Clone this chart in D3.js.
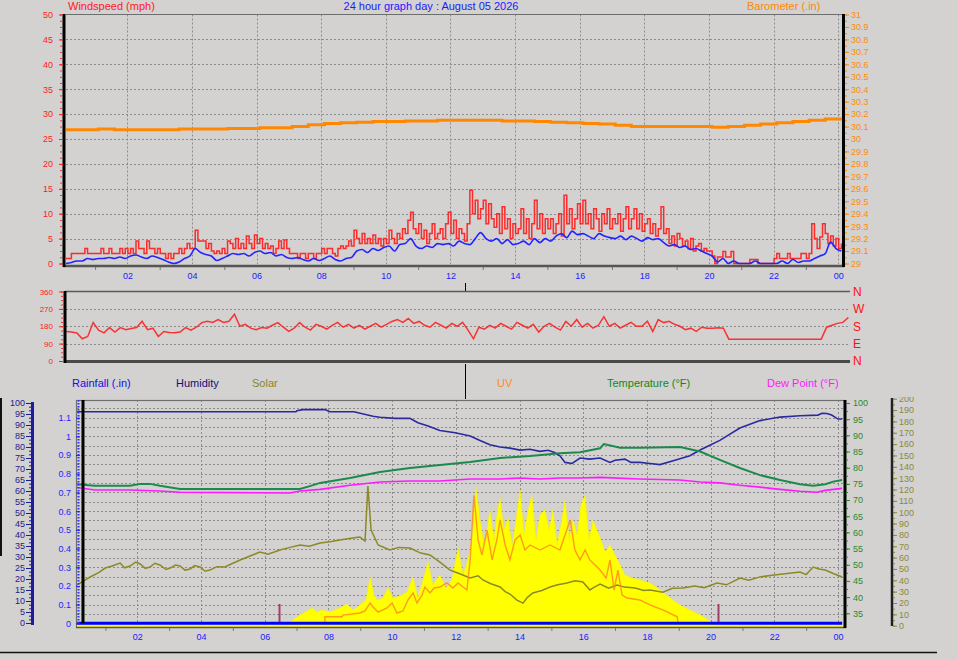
<!DOCTYPE html>
<html><head><meta charset="utf-8">
<script src="https://cdnjs.cloudflare.com/ajax/libs/d3/7.8.5/d3.min.js"></script>
<style>
html,body{margin:0;padding:0;background:#d4d1d1;}
svg{display:block;font-family:"Liberation Sans",Arial,sans-serif;}
</style></head><body>
<svg id="c" width="957" height="660"></svg>
<script>
// ---------------- DATA ----------------
const titleText = "24 hour graph day : August 05 2026";
const hourTicks = [2,4,6,8,10,12,14,16,18,20,22,24];
const hourLabels = ["02","04","06","08","10","12","14","16","18","20","22","00"];
const oddHours = [1,3,5,7,9,11,13,15,17,19,21,23];

const windTicks = [0,5,10,15,20,25,30,35,40,45,50];
const baroTicks = [29,29.1,29.2,29.3,29.4,29.5,29.6,29.7,29.8,29.9,30,30.1,30.2,30.3,30.4,30.5,30.6,30.7,30.8,30.9,31];
const dirTicks = [0,90,180,270,360];
const dirLetters = ["N","E","S","W","N"];
const rainTicks = [0,0.1,0.2,0.3,0.4,0.5,0.6,0.7,0.8,0.9,1,1.1];
const humTicks = [0,5,10,15,20,25,30,35,40,45,50,55,60,65,70,75,80,85,90,95,100];
const tempTicks = [35,40,45,50,55,60,65,70,75,80,85,90,95,100];
const solarTicks = [0,10,20,30,40,50,60,70,80,90,100,110,120,130,140,150,160,170,180,190,200];

// wind gust (mph), 5-minute samples from 00:06
const gustStart = 0.1, gustStep = 1/12;
const windGust = [
1,1,2,2,2,2,2,3,2,2,2,2,
2,3,2,2,3,2,2,2,3,2,3,2,
3,2,4.5,3,3,2,4.5,3,3,2,3,2,
2,1,2,1,2,2,3,2,3,4,3,3,
6.7,4.5,4.5,4.5,3,4,2.5,2,2.5,2,3,2,
4.5,4,3,5,3,4,3,5.5,4,3,5.7,4,
5,3,4,3,3.5,2,3,4.5,3,4.7,3,2,
2,2,1,2,2,1,2,2,1,2,2,3,
2,3,3,2,1.5,3,3.5,3,3.5,4.5,3.5,6.7,
5,4,6,4,5,4,5.7,4,5,3.5,5,4,
6.7,5,4,6,5,7,6,8.7,10.3,7,6,8,
5,6.7,4,6,8,5,6,7,5,8,10.3,6,
8.7,5,7,6,4.5,8,14.7,10,12.7,9,11,12.7,
8,12,9,7.3,10,6,11.4,7,9,5,8,6,
7,11,6,9,5,8,12.7,7,10,6,9,7,
9,6,8,10,5.5,13.7,8,11,7,9,12,8,
12.7,8,10,7,11,9,6.5,10,8,11,7,9,
8,10,6.5,9,11.4,7,9,11,7,10,6.5,8,
9,6,8,5.5,7,11.4,6,7,4,5.5,3.5,6,
5,3.5,4.5,3,5,2.5,3.5,4,2.5,3,2.5,2.5,
1.5,0,1.3,1.3,2.4,1.3,1.3,2.4,0,0,0,0,
0,0,0.8,0.8,0.8,0,0,0,0,0,0,1,
2,1,1,1,2,1,1,1,1,2,2,1,
2,8,5,3,5.3,8,6,4,5.5,3.5,5,3,
4];

// average wind (mph), 10-minute samples
const avgStart = 0.1, avgStep = 1/6;
const windAvg = [
0,0.2,0.5,0.5,1,0.8, 1,1,1.2,1,1.3,1, 1.5,1.7,1.3,1,1.5,1.2, 0.8,0.3,0,0.3,1,1.5,
3,2.2,1.8,1.5,0.6,1, 1.5,2,1.8,2,1.5,2.2, 2.5,2,2.2,1.5,1.8,1.2, 1,1.2,0.8,0.5,1,0.6,
1,1.5,0.8,0.5,1,1.2, 2.5,2.8,2.2,3,2.6,3.2, 3.5,2.5,3.8,4,5,3.5, 3,3.5,3.2,4,3.8,4,
3.5,4.5,4,3.8,5,6.2, 5,4.5,5,4,4.8,3.8, 4,4.5,3.8,5,4.2,5, 4.5,5.5,6,5.2,6.5,5.8,
6,5.5,5,6,5.5,5.2, 5,5.5,4.8,5.5,5,4.5, 5.2,4.8,5,4.2,3.5,3.8, 3.2,3.5,2.8,3,2.5,2,
1.5,0.3,1,0,0.5,0, 0,0,0.5,0,0,0, 0,0.5,0,0.8,0.2,0.5, 0.5,1,1.5,2,4.3,3,
2.5];

// barometer (in), half-hour samples
const baroStart = 0.1, baroStep = 0.5;
const barometer = [30.075,30.075,30.08,30.075,30.075,30.075,30.075,30.08,30.08,30.08,30.085,30.085,30.09,30.09,30.1,30.115,30.125,30.13,30.135,30.14,30.14,30.145,30.145,30.15,30.15,30.15,30.15,30.145,30.145,30.14,30.135,30.13,30.125,30.12,30.11,30.1,30.1,30.1,30.1,30.1,30.095,30.1,30.11,30.12,30.13,30.14,30.15,30.16,30.17];

// wind direction (deg), 10-minute samples
const dirStart = 0.1, dirStep = 1/6;
const windDir = [
153,150,145,115,127,199,160,146,173,150,173,162,168,173,206,162,170,127,153,148,146,150,173,160,
175,199,206,200,215,200,206,242,180,190,170,162,173,170,185,199,175,153,170,199,175,160,190,180,
165,185,200,175,190,170,185,165,180,195,175,190,205,215,200,220,195,205,185,175,200,185,170,195,
180,200,160,115,175,165,185,170,195,180,165,200,185,170,190,150,180,195,175,160,205,180,215,175,
195,170,185,230,180,195,170,185,200,180,180,206,153,215,199,206,190,180,162,170,153,175,170,170,
172,170,113,113,113,113,113,113,113,113,113,113,113,113,113,113,113,113,113,113,175,185,195,200,
225];

// bottom panel
const rainT = [0.11, 24.13];
const rainfall = [0, 0];

const humT = [0.11,6.98,7.01,7.2,7.89,8.05,8.8,9.4,9.62,10.09,10.56,10.81,11.13,11.5,11.98,12.45,12.76,13.07,13.39,13.7,14.02,14.33,14.64,14.9,15.1,15.27,15.43,15.65,15.9,16.2,16.53,16.84,17.0,17.31,17.5,17.78,18.1,18.41,18.88,19.35,19.67,20.29,20.92,21.55,22.18,22.81,23.37,23.5,23.65,23.8,24.0,24.13];
const humidity = [96,96,96.5,97,97,96,96,94,93.5,93,93,91,89.5,87.5,86.5,85,83,81,80,79.5,78.6,79,78,78.5,77.5,76,73,72.5,75,74.5,75,73,74,74.5,73,73,72.5,72,74,76,78.6,83,88.6,92,93.6,94.2,94.5,95.3,95.2,94.5,92.7,92.7];

const tempT = [0.11,0.67,1.77,2.09,2.4,2.71,3.34,7.11,7.42,7.74,8.68,9.62,10.56,11.5,12.45,13.39,14.33,15.27,15.9,16.53,16.65,17.16,17.78,19.04,19.67,20.29,20.92,21.55,22.18,22.81,23.22,23.6,23.85,24.13];
const temperature = [74.9,74.4,74.4,75,75,74.4,73.4,73.4,74.3,75.3,76.8,78.7,79.9,80.8,81.8,83,83.6,84.5,84.8,86,87.3,86.2,86.2,86.4,85,82.4,79.9,77.7,76.2,74.9,74.4,74.9,75.7,76.2];

const dewT = [0.11,0.67,1.77,2.71,3.34,6.79,7.11,7.74,8.68,9.62,10.56,11.5,12.45,13.39,14.02,14.64,15.27,15.9,16.53,17.78,19.04,19.67,20.29,20.92,21.55,22.18,22.81,23.34,23.6,24.13];
const dewPoint = [73.9,73.1,73.1,72.8,72.4,72.2,72.8,73.3,74.6,75.6,75.9,75.9,76.5,76.5,76.8,76.5,76.8,76.8,77,76.5,76.2,75.6,75.3,74.6,74,73.3,72.7,72.4,73,73.6];

const solarT = [0.11,0.52,0.8,0.99,1.21,1.46,1.6,1.77,1.95,2.09,2.25,2.4,2.55,2.71,2.9,3.03,3.2,3.34,3.5,3.66,3.8,3.97,4.13,4.28,4.5,4.75,5.0,5.23,5.5,5.85,6.1,6.48,6.8,7.11,7.4,7.74,8.05,8.36,8.7,8.99,9.15,9.24,9.34,9.56,9.93,10.2,10.56,10.9,11.19,11.5,11.82,12.1,12.45,12.7,12.85,13.1,13.39,13.55,13.7,13.92,14.11,14.25,14.42,14.7,14.96,15.2,15.49,15.75,15.99,16.21,16.35,16.53,16.8,17.06,17.3,17.63,17.9,18.1,18.5,18.8,19.13,19.5,19.8,20.2,20.5,20.92,21.2,21.55,22.0,22.4,22.81,23.0,23.22,23.4,23.6,23.85,24.13];
const solar = [35.9,42.9,47,50.8,52.6,55.2,51,52.6,56,54.4,50.5,51.7,55,53.5,49.5,50.8,53.5,52.6,49,50,53,51.7,48,49,52,51.7,55,57.9,61,64.9,63,66.7,69,71.1,70,72.9,74,75.5,77,78.1,74.6,123.1,84.3,71.1,66.7,69,68.5,64,62.3,56,49,46,42,44,40.3,37,34.1,30,27.9,22.6,19.9,25,28.8,31,34.1,36,37.6,39.5,38.5,31.5,34,36.7,33,35.9,34,33.2,31,31.5,29.5,33,33.2,35,33.5,37.6,36,42,40,43,44.7,46,47.3,45,51.7,50,49,46,42.9];

const sunT = [6.67,6.79,7.11,7.33,7.49,7.64,7.8,8.05,8.36,8.58,8.77,8.99,9.18,9.31,9.43,9.53,9.71,9.87,10.03,10.25,10.47,10.66,10.81,10.97,11.13,11.28,11.5,11.69,11.88,12.07,12.23,12.38,12.51,12.63,12.76,12.89,12.98,13.07,13.2,13.29,13.39,13.51,13.64,13.77,13.89,14.02,14.14,14.27,14.39,14.52,14.64,14.8,14.93,15.05,15.18,15.3,15.43,15.56,15.68,15.81,15.93,16.06,16.18,16.31,16.43,16.56,16.69,16.84,17.0,17.16,17.31,17.53,17.78,18.1,18.41,18.73,19.04,19.35,19.67,19.98,20.17];
const sunshine = [0,3.3,9.4,12.9,15.6,12.1,13.8,12.1,15.6,19.1,13.8,18.2,22.6,42.9,27,22.6,24.3,33.2,24.3,26.2,29.7,42.9,24.3,40.3,56.1,35.9,44.7,33.2,40.3,68.5,44.7,57.9,75.5,122.2,93,71.1,84.3,101.9,75.5,97.5,112.5,84.3,94.9,71.1,93,119.5,80.2,101.9,115.2,75.5,97.5,101.9,84.3,101.9,71.1,88.7,110.7,75.5,93,80.2,106.3,115.2,75.5,93,84.3,75.5,64.9,71.1,62.3,53.5,44.7,42,40.3,37.6,31.5,24.3,18.2,13.8,9.4,4.1,0];

const uvT = [7.89,7.89,8.43,8.46,8.99,9.15,9.31,9.4,9.56,9.84,10.0,10.15,10.34,10.5,10.66,10.78,10.94,11.03,11.19,11.32,11.5,11.72,11.91,12.07,12.35,12.45,12.57,12.7,12.82,12.98,13.14,13.29,13.39,13.55,13.7,13.86,14.02,14.17,14.33,14.64,14.96,15.27,15.43,15.59,15.74,15.9,16.06,16.21,16.37,16.53,16.72,16.84,16.97,17.09,17.22,17.38,17.78,18.1,18.57,18.95,18.98];
const uvIndex = [0,0.35,0.35,0.44,0.55,0.66,1.09,0.87,0.6,0.82,1.09,0.55,0.66,1.25,1.62,1.09,1.51,1.94,1.62,1.89,1.94,2.16,1.89,2.16,1.78,3.39,6.85,4.46,3.65,4.99,3.39,4.46,5.53,4.19,3.39,4.46,4.72,3.92,4.19,3.92,4.19,3.92,4.72,5.53,3.92,3.39,3.92,3.39,3.12,2.85,2.42,3.39,1.78,2.85,1.51,1.35,1.25,0.98,0.66,0.35,0];

const sunEvents = [6.45, 20.24];

const legendItems = [
  {label:"Rainfall (.in)", color:"#1010e8", x:72},
  {label:"Humidity", color:"#10107a", x:176},
  {label:"Solar", color:"#86862a", x:252},
  {label:"UV", color:"#ff8c1a", x:497},
  {label:"Temperature (°F)", color:"#0a8a1a", x:607},
  {label:"Dew Point (°F)", color:"#ff18ff", x:767}
];

// ---------------- DRAW ----------------
const FONT = '"Liberation Sans", Arial, sans-serif';
const svg = d3.select("#c");
svg.append("rect").attr("width",957).attr("height",660).attr("fill","#d4d1d1");

function styleAxis(g, color, size){
  g.select(".domain").remove();
  g.selectAll("line").attr("stroke",color);
  g.selectAll("text").attr("fill",color).attr("font-size",size).attr("font-family",FONT);
}
function hline(y,x1,x2,stroke,w,dash){
  svg.append("line").attr("x1",x1).attr("x2",x2).attr("y1",y).attr("y2",y)
    .attr("stroke",stroke).attr("stroke-width",w).attr("stroke-dasharray",dash||null);
}
function vline(x,y1,y2,stroke,w,dash){
  svg.append("line").attr("x1",x).attr("x2",x).attr("y1",y1).attr("y2",y2)
    .attr("stroke",stroke).attr("stroke-width",w).attr("stroke-dasharray",dash||null);
}
const GRID = "#8c8c8c", DASH = "2,2";

// ===== TOP PANEL =====
const xTop = d3.scaleLinear([0.1, 24.15],[66, 843]);
const yWind = d3.scaleLinear([0,50],[263.5,14.5]);
const yBaro = d3.scaleLinear([29,31],[263.5,14.5]);

windTicks.filter(d=>d>0 && d<50).forEach(d=>hline(Math.round(yWind(d))+0.5,66,843,GRID,1,DASH));
hourTicks.forEach(h=>vline(Math.round(xTop(h))+0.5,14.5,264,GRID,1,DASH));
hline(14.5,66,843,"#6e6e6e",1.2);

// barometer
svg.append("path").datum(barometer)
  .attr("d", d3.line().x((d,i)=>xTop(baroStart+i*baroStep)).y(d=>yBaro(d)).curve(d3.curveStepAfter))
  .attr("fill","none").attr("stroke","#ff8800").attr("stroke-width",3);
// gust
svg.append("path").datum(windGust)
  .attr("d", d3.line().x((d,i)=>xTop(gustStart+i*gustStep)).y(d=>yWind(d)).curve(d3.curveStepAfter))
  .attr("fill","none").attr("stroke","#ff1a1a").attr("stroke-width",1.5).attr("stroke-opacity",0.9);
// average
svg.append("path").datum(windAvg)
  .attr("d", d3.line().x((d,i)=>xTop(avgStart+i*avgStep)).y(d=>yWind(d)).curve(d3.curveMonotoneX))
  .attr("fill","none").attr("stroke","#2424ff").attr("stroke-width",1.6);

hline(266,63,844,"#555",2.5);
vline(64,14,267,"#000",3);
vline(843.5,14,267,"#000",3);

// left wind axis
styleAxis(svg.append("g").attr("transform","translate(62,0)")
  .call(d3.axisLeft(yWind).tickValues(d3.range(0,50.01,1.25)).tickSize(2).tickFormat("")),"#ff3030",9);
styleAxis(svg.append("g").attr("transform","translate(63,0)")
  .call(d3.axisLeft(yWind).tickValues(windTicks).tickSize(4).tickPadding(6).tickFormat(d3.format("d"))),"#ff2020",9);
// right baro axis
styleAxis(svg.append("g").attr("transform","translate(845,0)")
  .call(d3.axisRight(yBaro).tickValues(d3.range(290,310.1,0.5).map(d=>d/10)).tickSize(2).tickFormat("")),"#ff8c00",9);
styleAxis(svg.append("g").attr("transform","translate(845,0)")
  .call(d3.axisRight(yBaro).tickValues(baroTicks).tickSize(4).tickPadding(2).tickFormat(d=>String(+d.toFixed(1)))),"#ff8c00",9);
// bottom time axis
styleAxis(svg.append("g").attr("transform","translate(0,267)")
  .call(d3.axisBottom(xTop).tickValues(hourTicks).tickSize(0).tickPadding(6).tickFormat((d,i)=>hourLabels[i])),"#2020ff",9);
styleAxis(svg.append("g").attr("transform","translate(0,267)")
  .call(d3.axisBottom(xTop).tickValues(oddHours).tickSize(3).tickFormat("")),"#777",9);

svg.append("text").attr("x",68).attr("y",10).attr("fill","#ff1a1a").attr("font-size",11).attr("font-family",FONT).text("Windspeed (mph)");
svg.append("text").attr("x",431).attr("y",10).attr("text-anchor","middle").attr("fill","#1a1aff").attr("font-size",11).attr("font-family",FONT).text(titleText);
svg.append("text").attr("x",747).attr("y",10).attr("fill","#ff8800").attr("font-size",11).attr("font-family",FONT).text("Barometer (.in)");

vline(465.5,283,291,"#000",1);

// ===== MIDDLE PANEL =====
const xMid = d3.scaleLinear([0.1, 24.15],[66, 850]);
const yDir = d3.scaleLinear([0,360],[361,291.5]);
[90,180,270].forEach(d=>hline(Math.round(yDir(d))+0.5,66,850,GRID,1,DASH));
hline(291.5,65,850,"#5a5a5a",1.5);
svg.append("path").datum(windDir)
  .attr("d", d3.line().x((d,i)=>xMid(dirStart+i*dirStep)).y(d=>yDir(d)))
  .attr("fill","none").attr("stroke","#ff2020").attr("stroke-width",1.5).attr("stroke-opacity",0.9);
hline(361.5,64,850,"#4a4a4a",3);
vline(65,291,363,"#000",3);
styleAxis(svg.append("g").attr("transform","translate(63,0)")
  .call(d3.axisLeft(yDir).tickValues(d3.range(0,360.1,22.5)).tickSize(2).tickFormat("")),"#ff3030",8);
styleAxis(svg.append("g").attr("transform","translate(63,0)")
  .call(d3.axisLeft(yDir).tickValues(dirTicks).tickSize(4).tickPadding(6).tickFormat(d3.format("d"))),"#ff2020",8);
styleAxis(svg.append("g").attr("transform","translate(851,0)")
  .call(d3.axisRight(yDir).tickValues(dirTicks).tickSize(0).tickPadding(2).tickFormat((d,i)=>dirLetters[i])),"#ff1010",12);

vline(465.5,364,399,"#000",1);

// legend row
legendItems.forEach(it=>{
  svg.append("text").attr("x",it.x).attr("y",387).attr("fill",it.color).attr("font-size",11).attr("font-family",FONT).text(it.label);
});

// ===== BOTTOM PANEL =====
const xBot = d3.scaleLinear([0,24],[73.6,838]);
const yRain = d3.scaleLinear([0,1.2],[623.3,399]);
const yHum = d3.scaleLinear([0,100],[623,403]);
const yTemp = d3.scaleLinear([35,100],[613.3,403]);
const ySolar = d3.scaleLinear([0,200],[625.7,398.7]);
const yUV = d3.scaleLinear([0,12],[623.3,399]);

d3.range(0.05,1.16,0.05).forEach(d=>hline(Math.round(yRain(d))+0.5,77,845,GRID,1,DASH));
hourTicks.forEach(h=>vline(Math.round(xBot(h))+0.5,400,626,GRID,1,DASH));
svg.append("rect").attr("x",76.5).attr("y",400.5).attr("width",768.5).attr("height",226.5)
  .attr("fill","none").attr("stroke","#707070").attr("stroke-width",1.2);

// sunshine area
svg.append("path").datum(sunshine)
  .attr("d", d3.area().x((d,i)=>xBot(sunT[i])).y0(ySolar(0)).y1(d=>ySolar(d)))
  .attr("fill","#ffff00").attr("stroke","#f4f400").attr("stroke-width",0.6);
// solar (olive) line
svg.append("path").datum(solar)
  .attr("d", d3.line().x((d,i)=>xBot(solarT[i])).y(d=>ySolar(d)))
  .attr("fill","none").attr("stroke","#8a8a26").attr("stroke-width",1.5);
// UV
svg.append("path").datum(uvIndex)
  .attr("d", d3.line().x((d,i)=>xBot(uvT[i])).y(d=>yUV(d)))
  .attr("fill","none").attr("stroke","#ff8a1a").attr("stroke-width",1.4).attr("stroke-opacity",0.85);
// humidity
svg.append("path").datum(humidity)
  .attr("d", d3.line().x((d,i)=>xBot(humT[i])).y(d=>yHum(d)))
  .attr("fill","none").attr("stroke","#2a2aa0").attr("stroke-width",1.6);
// temperature
svg.append("path").datum(temperature)
  .attr("d", d3.line().x((d,i)=>xBot(tempT[i])).y(d=>yTemp(d)))
  .attr("fill","none").attr("stroke","#1c8a4c").attr("stroke-width",2);
// dew point
svg.append("path").datum(dewPoint)
  .attr("d", d3.line().x((d,i)=>xBot(dewT[i])).y(d=>yTemp(d)))
  .attr("fill","none").attr("stroke","#ff1aff").attr("stroke-width",1.6);
// sunrise / sunset markers
sunEvents.forEach(h=>vline(Math.round(xBot(h))+0.5,604,623,"#a0406a",2));
// baseline yellow + rainfall
hline(626,77,845,"#ffff00",2);
svg.append("path").datum(rainfall)
  .attr("d", d3.line().x((d,i)=>xBot(rainT[i])).y(d=>yRain(d)))
  .attr("fill","none").attr("stroke","#0000ff").attr("stroke-width",3);
hline(627.5,76,846,"#555",1.5);

// axes
vline(83,400,623,"#000",3);
vline(845,400,628,"#000",3);
vline(78.5,400,624,"#3030ff",2,"1.5,1.5");
styleAxis(svg.append("g").attr("transform","translate(80,0)")
  .call(d3.axisLeft(yRain).tickValues(rainTicks).tickSize(4).tickPadding(5).tickFormat(d=>String(+d.toFixed(1)))),"#2525ff",9);

vline(32.5,402,625,"#1c1c9c",3);
styleAxis(svg.append("g").attr("transform","translate(31,0)")
  .call(d3.axisLeft(yHum).tickValues(d3.range(0,100.1,5/3)).tickSize(2).tickFormat("")),"#1c1c9c",9);
styleAxis(svg.append("g").attr("transform","translate(31,0)")
  .call(d3.axisLeft(yHum).tickValues(humTicks).tickSize(5).tickPadding(1).tickFormat(d3.format("d"))),"#1c1c8c",9);

styleAxis(svg.append("g").attr("transform","translate(846,0)")
  .call(d3.axisRight(yTemp).tickValues(d3.range(35,100.1,2.5)).tickSize(2).tickFormat("")),"#2a8a2a",9);
styleAxis(svg.append("g").attr("transform","translate(846,0)")
  .call(d3.axisRight(yTemp).tickValues(tempTicks).tickSize(4).tickPadding(3).tickFormat(d3.format("d"))),"#2a8a2a",9);

const clip = svg.append("clipPath").attr("id","solclip");
clip.append("rect").attr("x",860).attr("y",397).attr("width",97).attr("height",240);
vline(892,398,626,"#222",2.5);
const solG = svg.append("g").attr("clip-path","url(#solclip)");
styleAxis(solG.append("g").attr("transform","translate(893,0)")
  .call(d3.axisRight(ySolar).tickValues(d3.range(0,200.1,5)).tickSize(2).tickFormat("")),"#8a8a3a",9);
styleAxis(solG.append("g").attr("transform","translate(893,0)")
  .call(d3.axisRight(ySolar).tickValues(solarTicks).tickSize(4).tickPadding(2).tickFormat(d3.format("d"))),"#8a8a3a",9);

styleAxis(svg.append("g").attr("transform","translate(0,628)")
  .call(d3.axisBottom(xBot).tickValues(hourTicks).tickSize(0).tickPadding(6).tickFormat((d,i)=>hourLabels[i])),"#2020ff",9);
styleAxis(svg.append("g").attr("transform","translate(0,628)")
  .call(d3.axisBottom(xBot).tickValues(oddHours).tickSize(3).tickFormat("")),"#777",9);

hline(652.5,0,937,"#111",1.5);
vline(1,398,556,"#111",2);
</script>
</body></html>
